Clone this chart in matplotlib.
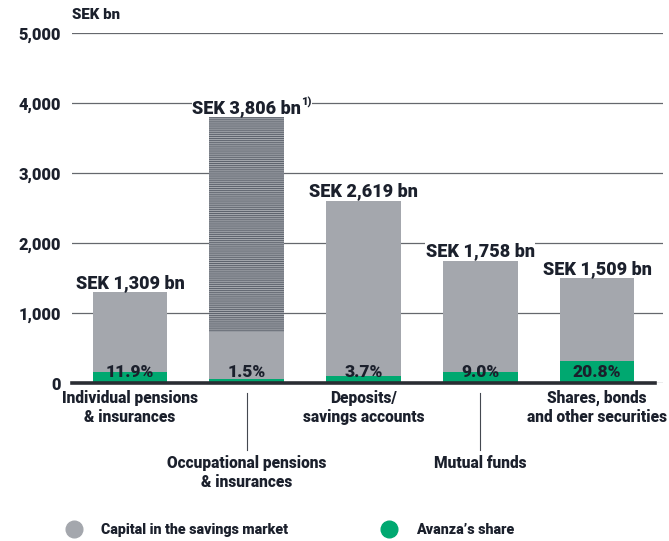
import matplotlib
matplotlib.use("Agg")
import matplotlib.pyplot as plt
from matplotlib.lines import Line2D

plt.rcParams['font.family'] = ['Roboto', 'DejaVu Sans']
WEIGHT = 'heavy'
plt.rcParams['font.weight'] = WEIGHT
plt.rcParams['hatch.linewidth'] = 0.7

categories = ["Individual pensions\n& insurances", "Occupational pensions\n& insurances",
              "Deposits/\nsavings accounts", "Mutual funds", "Shares, bonds\nand other securities"]
capital = [1309, 3806, 2619, 1758, 1509]
capital_labels = ["SEK 1,309 bn", "SEK 3,806 bn", "SEK 2,619 bn", "SEK 1,758 bn", "SEK 1,509 bn"]
avanza_share_pct = [11.9, 1.5, 3.7, 9.0, 20.8]
share_labels = ["11.9%", "1.5%", "3.7%", "9.0%", "20.8%"]
occupational_hatched_from = 730  # lower edge of the hatched part of the occupational bar
yticks = [0, 1000, 2000, 3000, 4000, 5000]
ytick_labels = ["0", "1,000", "2,000", "3,000", "4,000", "5,000"]
label_low = [False, True, False, True, False]

GREY = "#a4a7ad"
GREEN = "#00a870"
DARK = "#1b202c"
HATCH = "#5b616b"

fig = plt.figure(figsize=(6.69, 5.41), dpi=100)
ax = fig.add_axes([72/669, 158/541, 591/669, 350/541])

x = list(range(len(categories)))
w = 0.64
ax.bar(x, capital, width=w, color=GREY, zorder=2)
# hatched part of occupational pensions
ax.bar([1], [capital[1] - occupational_hatched_from], bottom=[occupational_hatched_from],
       width=w, facecolor=GREY, edgecolor=HATCH, linewidth=0, hatch='--------', zorder=3)
share_vals = [c * p / 100 for c, p in zip(capital, avanza_share_pct)]
ax.bar(x, share_vals, width=w, color=GREEN, zorder=4)

ax.set_ylim(0, 5000)
ax.set_xlim(-0.497, 4.565)
ax.set_yticks(yticks)
ax.set_yticklabels(ytick_labels, fontweight=WEIGHT)
ax.tick_params(axis='y', length=0, pad=8, labelsize=11.8, labelcolor=DARK)
ax.tick_params(axis='x', length=0, labelbottom=False)
for s in ax.spines.values():
    s.set_visible(False)
ax.grid(axis='y', color='#65686d', linewidth=0.9, zorder=0)
ax.set_axisbelow(True)
ax.axhline(0, xmin=0, xmax=583/591, color='#2a2d33', linewidth=2.6, zorder=5, clip_on=False)

# value labels
texts = []
for i, (c, lab) in enumerate(zip(capital, capital_labels)):
    t = ax.annotate(lab, xy=(i, c), xytext=(0, 2.5), textcoords='offset points',
                    ha='center', va='baseline', fontsize=13, color=DARK, fontweight=WEIGHT,
                    zorder=6, bbox=dict(facecolor='white', edgecolor='none', pad=0.3))
    texts.append(t)

# share labels
for i, lab in enumerate(share_labels):
    ax.annotate(lab, xy=(i, 0), xytext=(0, 2), textcoords='offset points',
                ha='center', va='bottom', fontsize=12.5, color=DARK, fontweight=WEIGHT, zorder=6)

# category labels
for i, (lab, low) in enumerate(zip(categories, label_low)):
    if low:
        ax.annotate(lab, xy=(i, 0), xycoords=('data', 'axes fraction'), xytext=(0, -52),
                    textcoords='offset points', ha='center', va='top', fontsize=11.2,
                    color=DARK, linespacing=1.2, annotation_clip=False, fontweight=WEIGHT)
        ax.plot([i, i], [-0.028, -0.19], color='#444850', linewidth=0.8,
                transform=ax.get_xaxis_transform(), clip_on=False)
    else:
        ax.annotate(lab, xy=(i, 0), xycoords=('data', 'axes fraction'), xytext=(0, -5),
                    textcoords='offset points', ha='center', va='top', fontsize=11.2,
                    color=DARK, linespacing=1.2, annotation_clip=False, fontweight=WEIGHT)

fig.text(72/669, 1 - 15/541, "SEK bn", fontsize=10.8, color=DARK, fontweight=WEIGHT, va='center', ha='left')

# superscript footnote
fig.canvas.draw()
r = fig.canvas.get_renderer()
bb = texts[1].get_window_extent(r)
fig.text((bb.x1 - 0.5) / fig.dpi / 6.69, (bb.y1 + 2) / fig.dpi / 5.41, "1)", fontsize=8,
         color=DARK, fontweight=WEIGHT, ha='left', va='top',
         bbox=dict(facecolor='white', edgecolor='none', pad=0.3))

handles = [Line2D([], [], marker='o', linestyle='none', markersize=12, color=GREY),
           Line2D([], [], marker='o', linestyle='none', markersize=12, color=GREEN)]
fig.legend(handles, ["Capital in the savings market", "Avanza’s share"], ncol=2,
           loc='center left', bbox_to_anchor=(47/669, 1 - 530/541), frameon=False,
           handletextpad=0.9, columnspacing=6.0, labelcolor=DARK,
           prop={'weight': WEIGHT, 'size': 10.3})

fig.savefig("out.png", dpi=100)
